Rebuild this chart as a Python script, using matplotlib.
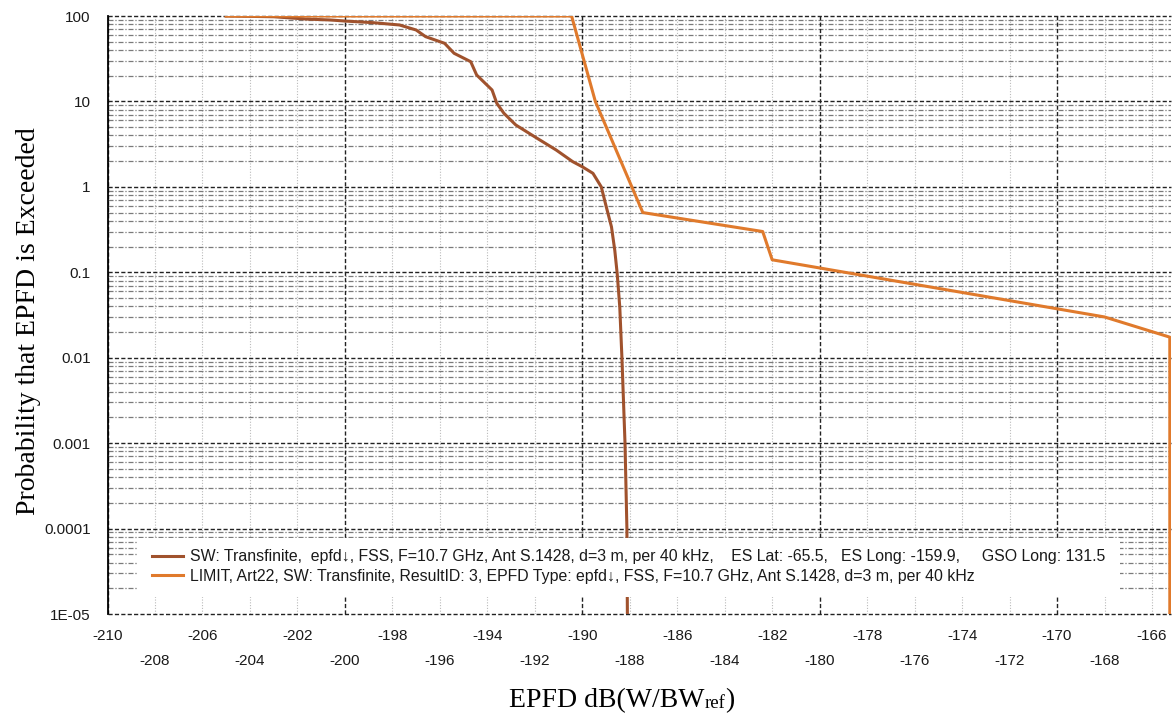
import numpy as np
import matplotlib
matplotlib.use('Agg')
import matplotlib.pyplot as plt
from matplotlib.patches import Rectangle
from matplotlib.ticker import FixedLocator, NullFormatter

# measured epfd distribution (dB(W/BWref), % of time exceeded)
sw_epfd = [-205.0, -203.0, -201.6, -200.6, -200.0, -198.8, -197.7, -197.0, -196.6,
           -195.8, -195.4, -194.7, -194.45, -193.8, -193.6, -193.3, -192.8, -191.9,
           -191.1, -190.4, -190.0, -189.55, -189.2, -189.0, -188.77, -188.63, -188.53,
           -188.42, -188.33, -188.2, -188.12, -188.1, -188.1]
sw_prob = [100.0, 98.0, 92.0, 89.8, 87.3, 83.5, 78.5, 68.6, 57.3,
           47.9, 36.6, 29.2, 20.4, 13.6, 9.5, 7.26, 5.3, 3.7,
           2.7, 1.97, 1.72, 1.44, 1.0, 0.6, 0.34, 0.18, 0.097,
           0.039, 0.01, 0.001, 1e-4, 1e-5, 1e-7]

# Art.22 limit mask
lim_epfd = [-205.0, -190.45, -189.45, -187.45, -182.4, -182.0, -168.0, -165.25, -165.25]
lim_prob = [100.0, 100.0, 10.0, 0.5, 0.3, 0.14, 0.03, 0.0174, 1e-7]

sw_label = ('SW: Transfinite,  epfd\u2193, FSS, F=10.7 GHz, Ant S.1428, d=3 m, per 40 kHz,'
            '    ES Lat: -65.5,   ES Long: -159.9,     GSO Long: 131.5')
lim_label = ('LIMIT, Art22, SW: Transfinite, ResultID: 3, EPFD Type: epfd\u2193, FSS, '
             'F=10.7 GHz, Ant S.1428, d=3 m, per 40 kHz')

y_ticks = [1e-5, 1e-4, 1e-3, 1e-2, 0.1, 1, 10, 100]
y_labels = ['1E-05', '0.0001', '0.001', '0.01', '0.1', '1', '10', '100']

sans = ['Liberation Sans', 'DejaVu Sans']
serif = ['Liberation Serif', 'DejaVu Serif']

fig = plt.figure(figsize=(11.72, 7.17), dpi=100)
ax = fig.add_axes([107.5 / 1172, 103 / 717, 1063.5 / 1172, 598 / 717])
ax.set_yscale('log')
ax.set_xlim(-210, -165.2)
ax.set_ylim(1e-5, 100)

# grid: light dotted every 2 dB, dark dashed every 10 dB
for v in np.arange(-210, -165, 2):
    if v % 10 == 0:
        ax.axvline(v, color='#222222', lw=1.0, dashes=(3, 1.6), zorder=1.2)
    else:
        ax.axvline(v, color='#bbbbbb', lw=0.8, dashes=(1, 1.5), zorder=1)
for k in range(-5, 2):
    for m in range(2, 10):
        ax.axhline(m * 10.0 ** k, color='#7a7a7a', lw=0.9, dashes=(4, 1.5, 1, 1.5), zorder=1.1)
for t in y_ticks:
    ax.axhline(t, color='#222222', lw=1.0, dashes=(3, 1.6), zorder=1.2, clip_on=False)

ax.plot(sw_epfd, sw_prob, color='#a0522d', lw=2.2, zorder=2, label=sw_label)
ax.plot(lim_epfd, lim_prob, color='#e07a2c', lw=2.2, zorder=2.1, label=lim_label)

# white panel behind the legend
ax.add_patch(Rectangle((0.0277, 0.0284), 0.924, 0.0987, transform=ax.transAxes,
                       facecolor='white', edgecolor='none', zorder=3))
leg = ax.legend(loc='upper left', bbox_to_anchor=(0.0416, 0.108), frameon=False,
                borderpad=0, borderaxespad=0, handlelength=1.95, handletextpad=0.45,
                labelspacing=0.28, prop={'family': sans, 'size': 11.4})
leg.set_zorder(4)
for txt in leg.get_texts():
    txt.set_color('#1a1a1a')

# spines
for s in ['top', 'right', 'bottom']:
    ax.spines[s].set_visible(False)
ax.spines['left'].set_color('black')
ax.spines['left'].set_linewidth(1.3)
ax.spines['left'].set_zorder(5)

# y ticks
ax.yaxis.set_major_locator(FixedLocator(y_ticks))
ax.set_yticklabels(y_labels, family=sans, fontsize=11, color='#1a1a1a')
ax.yaxis.set_minor_locator(FixedLocator([]))
ax.yaxis.set_minor_formatter(NullFormatter())
ax.tick_params(axis='y', which='both', length=0, pad=12)

# x ticks in two staggered rows
top_row = np.arange(-210, -165, 4)
low_row = np.arange(-208, -165, 4)
ax.xaxis.set_major_locator(FixedLocator(top_row))
ax.xaxis.set_minor_locator(FixedLocator(low_row))
ax.set_xticklabels([str(v) for v in top_row], family=sans, fontsize=11, color='#1a1a1a')
ax.set_xticklabels([str(v) for v in low_row], minor=True, family=sans, fontsize=11,
                   color='#1a1a1a')
ax.tick_params(axis='x', which='major', length=0, pad=11)
ax.tick_params(axis='x', which='minor', length=0, pad=29)

# x axis title with small "ref" sitting on the baseline
renderer = fig.canvas.get_renderer()
base_y = 1 - 707.5 / 717
parts = [('EPFD dB(W/BW', 20), ('ref', 13.5), (')', 20)]
pieces = []
for s, size in parts:
    pieces.append(fig.text(0, base_y, s, family=serif, fontsize=size, ha='left', va='baseline'))
widths = [p.get_window_extent(renderer).width for p in pieces]
x = 622 - sum(widths) / 2
for p, w in zip(pieces, widths):
    p.set_x(x / 1172)
    x += w

fig.text(35 / 1172, 1 - 321 / 717, 'Probability that EPFD is Exceeded', family=serif,
         fontsize=20, rotation=90, rotation_mode='anchor', ha='center', va='baseline')

fig.savefig('out.png', dpi=100)
